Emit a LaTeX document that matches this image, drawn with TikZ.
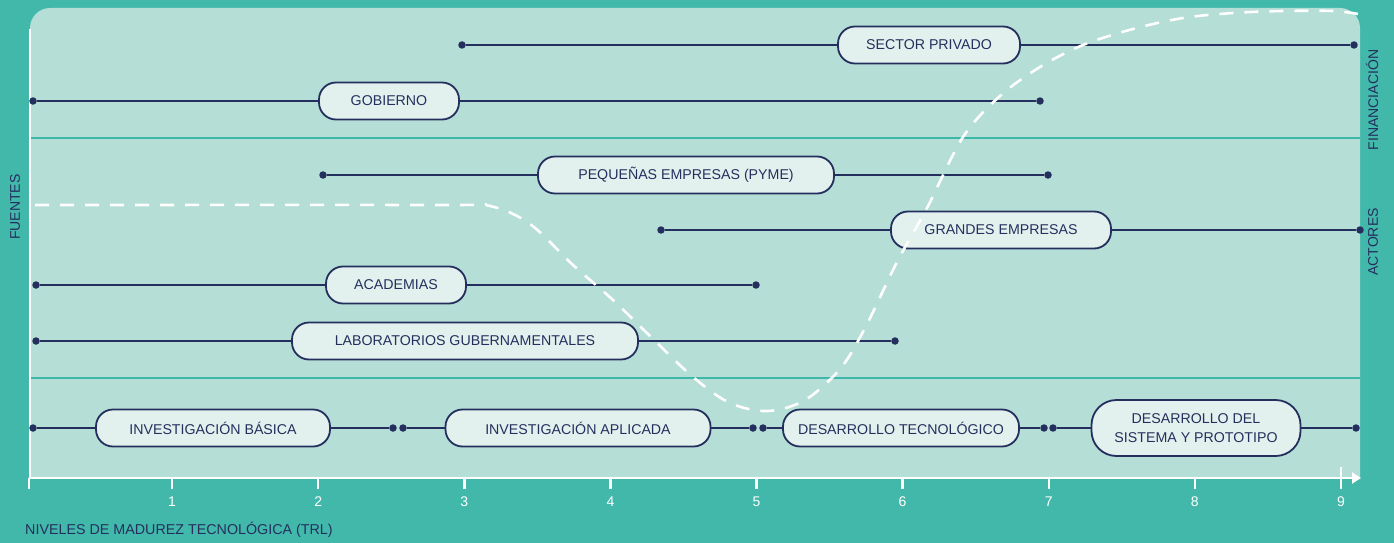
\documentclass[tikz,border=0pt]{standalone}
\usepackage{fontspec}
\setmainfont{Liberation Sans}
\usetikzlibrary{arrows.meta}

\definecolor{outerteal}{HTML}{41B8AA}
\definecolor{panelmint}{HTML}{B4DED6}
\definecolor{rowrule}{HTML}{3DB7A8}
\definecolor{navy}{HTML}{252F5E}
\definecolor{pillfill}{HTML}{E3F1EE}

\tikzset{
  pill/.style={draw=navy, fill=pillfill, line width=1.8pt, rounded corners=17pt,
    minimum height=37pt, inner sep=0pt, align=center, text=navy,
    font=\fontsize{14.2}{19}\selectfont},
  enddot/.style={circle, fill=navy, inner sep=0pt, minimum size=7.5pt},
  rowline/.style={draw=navy, line width=2pt},
  axisline/.style={draw=white, line width=2.4pt},
  ticklabel/.style={text=white, font=\fontsize{14}{16}\selectfont},
  sidelabel/.style={text=navy, font=\fontsize{14}{16}\selectfont, rotate=90, inner sep=0pt},
  trend/.style={draw=white, line width=2.6pt, dash pattern=on 14pt off 11pt}
}

\begin{document}
\begin{tikzpicture}[x=1pt, y=-1pt]
\useasboundingbox (0,0) rectangle (1394,543);
\fill[outerteal] (0,0) rectangle (1394,543);

% light panel with rounded top corners
\fill[panelmint] (30,478) [rounded corners=20pt] -- (30,8) -- (1360,8) [sharp corners] -- (1360,478) -- cycle;

% separators between the groups of rows
\draw[rowrule, line width=1.3pt] (30,138) -- (1360,138);
\draw[rowrule, line width=1.3pt] (30,378) -- (1360,378);

% axes
\draw[draw=white, line width=2pt] (30,29) -- (30,479);
\draw[axisline, -{Triangle[length=9pt, width=11pt]}] (29,478) -- (1361,478);
\draw[axisline] (29,478) -- (29,489);
\foreach \t in {1,...,8} {
  \draw[axisline] ({26+146.1*\t},478) -- ({26+146.1*\t},489);
  \node[ticklabel] at ({26+146.1*\t},502) {\t};
}
\draw[axisline] ({26+146.1*9},467) -- ({26+146.1*9},489);
\node[ticklabel] at ({26+146.1*9},502) {9};

\node[anchor=west, inner sep=0pt, text=navy, font=\fontsize{14.3}{16}\selectfont] (trl) at (25,530) {NIVELES DE MADUREZ TECNOLÓGICA (TRL)};

% side labels
\node[sidelabel] (fuentes) at (15,207) {FUENTES};
\node[sidelabel] (financ) at (1372,100) {FINANCIACIÓN};
\node[sidelabel] (actores) at (1373,242) {ACTORES};

% funding sources
\node[pill, minimum width=182pt] (priv) at (929,45) {SECTOR PRIVADO};
\node[enddot] (priv-a) at (462,45) {};
\node[enddot] (priv-b) at (1354,45) {};
\draw[rowline] (priv-a) -- (priv) -- (priv-b);

\node[pill, minimum width=140pt] (gob) at (389,101) {GOBIERNO};
\node[enddot] (gob-a) at (33,101) {};
\node[enddot] (gob-b) at (1040,101) {};
\draw[rowline] (gob-a) -- (gob) -- (gob-b);

% actors
\node[pill, minimum width=296pt] (pyme) at (686,175) {PEQUEÑAS EMPRESAS (PYME)};
\node[enddot] (pyme-a) at (323,175) {};
\node[enddot] (pyme-b) at (1048,175) {};
\draw[rowline] (pyme-a) -- (pyme) -- (pyme-b);

\node[pill, minimum width=220pt] (grand) at (1001,230) {GRANDES EMPRESAS};
\node[enddot] (grand-a) at (661,230) {};
\node[enddot] (grand-b) at (1360,230) {};
\draw[rowline] (grand-a) -- (grand) -- (grand-b);

\node[pill, minimum width=140pt] (acad) at (396,285) {ACADEMIAS};
\node[enddot] (acad-a) at (36,285) {};
\node[enddot] (acad-b) at (756,285) {};
\draw[rowline] (acad-a) -- (acad) -- (acad-b);

\node[pill, minimum width=346pt] (labs) at (465,341) {LABORATORIOS GUBERNAMENTALES};
\node[enddot] (labs-a) at (36,341) {};
\node[enddot] (labs-b) at (895,341) {};
\draw[rowline] (labs-a) -- (labs) -- (labs-b);

% stages of development
\node[pill, minimum width=234pt] (ib) at (213,428) {INVESTIGACIÓN BÁSICA};
\node[enddot] (ib-a) at (33,428) {};
\node[enddot] (ib-b) at (393,428) {};
\draw[rowline] (ib-a) -- (ib) -- (ib-b);

\node[pill, minimum width=265pt] (ia) at (578,428) {INVESTIGACIÓN APLICADA};
\node[enddot] (ia-a) at (403,428) {};
\node[enddot] (ia-b) at (753,428) {};
\draw[rowline] (ia-a) -- (ia) -- (ia-b);

\node[pill, minimum width=236pt] (dt) at (901,428) {DESARROLLO TECNOLÓGICO};
\node[enddot] (dt-a) at (763,428) {};
\node[enddot] (dt-b) at (1044,428) {};
\draw[rowline] (dt-a) -- (dt) -- (dt-b);

\node[pill, minimum width=209pt, minimum height=56pt, rounded corners=25pt] (ds) at (1196,428) {DESARROLLO DEL\\SISTEMA Y PROTOTIPO};
\node[enddot] (ds-a) at (1053,428) {};
\node[enddot] (ds-b) at (1356,428) {};
\draw[rowline] (ds-a) -- (ds) -- (ds-b);

% dashed trend curve over everything
\draw[trend] plot[smooth, tension=0.55] coordinates {
  (35,205) (440,205) (490,206) (530,224) (573,265) (613,300) (650,336)
  (693,377) (730,403) (768,411) (805,400) (840,369) (865,328) (897,262)
  (927,208) (963,137) (1000,96) (1040,67) (1083,45) (1133,29) (1183,18)
  (1233,13) (1283,11) (1333,11) (1358,14)};
\end{tikzpicture}
\end{document}
